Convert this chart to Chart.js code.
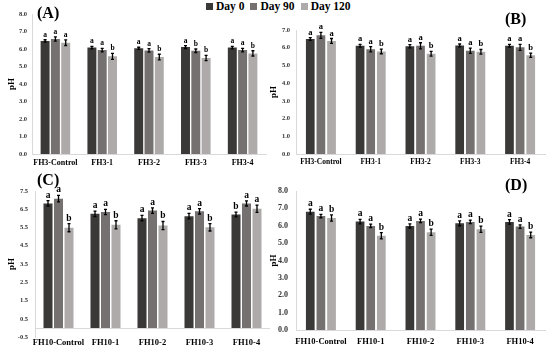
<!DOCTYPE html>
<html>
<head>
<meta charset="utf-8">
<script src="https://cdn.jsdelivr.net/npm/chart.js@4.4.1/dist/chart.umd.min.js"></script>
<style>
    body { margin: 0; background: #fff; width: 550px; height: 348px; overflow: hidden; position: relative; }
    canvas { position: absolute; }
    #legend { position: absolute; top: 0px; left: 206px; font: bold 11.5px "Liberation Serif", serif; color: #000; white-space: nowrap; }
    #legend span.sw { display: inline-block; width: 7px; height: 7px; margin: 0 3px 0 0; }
    #legend span.item { margin-right: 6px; }
    .tag { position: absolute; font: bold 16px "Liberation Serif", serif; color: #000; }
</style>
</head>
<body>
<div id="legend"></div>
<canvas id="chartA"></canvas>
<canvas id="chartB"></canvas>
<canvas id="chartC"></canvas>
<canvas id="chartD"></canvas>
<div class="tag" style="left:37px;top:4px">(A)</div>
<div class="tag" style="left:505px;top:10px">(B)</div>
<div class="tag" style="left:37px;top:171px">(C)</div>
<div class="tag" style="left:505px;top:176px">(D)</div>
<script>
const seriesNames = ['Day 0', 'Day 90', 'Day 120'];
const seriesColors = ['#3b3838', '#767171', '#aeaaaa'];

const catsFH3 = ['FH3-Control', 'FH3-1', 'FH3-2', 'FH3-3', 'FH3-4'];
const catsFH10 = ['FH10-Control', 'FH10-1', 'FH10-2', 'FH10-3', 'FH10-4'];

// (A)
const aDay0 = [6.46, 6.08, 6.04, 6.11, 6.08];
const aDay90 = [6.57, 5.94, 5.92, 5.90, 5.94];
const aDay120 = [6.36, 5.58, 5.54, 5.49, 5.75];
const aErr0 = [0.07, 0.07, 0.06, 0.08, 0.07];
const aErr90 = [0.12, 0.10, 0.10, 0.10, 0.10];
const aErr120 = [0.16, 0.17, 0.16, 0.15, 0.15];
const aLet0 = ['a', 'a', 'a', 'a', 'a'];
const aLet90 = ['a', 'a', 'a', 'b', 'a'];
const aLet120 = ['a', 'b', 'b', 'b', 'b'];

// (B)
const bDay0 = [6.49, 6.11, 6.08, 6.13, 6.11];
const bDay90 = [6.70, 5.91, 6.11, 5.83, 6.02];
const bDay120 = [6.38, 5.79, 5.66, 5.77, 5.58];
const bErr0 = [0.08, 0.08, 0.09, 0.08, 0.08];
const bErr90 = [0.17, 0.15, 0.17, 0.15, 0.17];
const bErr120 = [0.14, 0.13, 0.13, 0.13, 0.12];
const bLet0 = ['a', 'a', 'a', 'a', 'a'];
const bLet90 = ['a', 'a', 'a', 'a', 'a'];
const bLet120 = ['a', 'b', 'b', 'b', 'b'];

// (C)
const cDay0 = [6.82, 6.25, 6.01, 6.12, 6.21];
const cDay90 = [7.08, 6.35, 6.43, 6.39, 6.82];
const cDay120 = [5.49, 5.65, 5.61, 5.51, 6.53];
const cErr0 = [0.15, 0.15, 0.15, 0.15, 0.13];
const cErr90 = [0.18, 0.14, 0.15, 0.15, 0.14];
const cErr120 = [0.22, 0.22, 0.22, 0.2, 0.2];
const cLet0 = ['a', 'a', 'a', 'a', 'b'];
const cLet90 = ['a', 'a', 'a', 'a', 'a'];
const cLet120 = ['b', 'b', 'b', 'b', 'a'];

// (D)
const dDay0 = [6.81, 6.24, 5.99, 6.14, 6.22];
const dDay90 = [6.56, 5.99, 6.28, 6.22, 5.95];
const dDay120 = [6.45, 5.42, 5.63, 5.80, 5.47];
const dErr0 = [0.14, 0.13, 0.12, 0.14, 0.13];
const dErr90 = [0.1, 0.1, 0.1, 0.1, 0.1];
const dErr120 = [0.18, 0.18, 0.18, 0.18, 0.16];
const dLet0 = ['a', 'a', 'a', 'a', 'a'];
const dLet90 = ['a', 'a', 'a', 'a', 'a'];
const dLet120 = ['b', 'b', 'b', 'b', 'b'];

// shared legend
const legendEl = document.getElementById('legend');
seriesNames.forEach((name, i) => {
    const item = document.createElement('span');
    item.className = 'item';
    item.innerHTML = `<span class="sw" style="background:${seriesColors[i]}"></span>${name}`;
    legendEl.appendChild(item);
});

const SERIF = '"Liberation Serif", serif';

// error bars, letters and (for C) the zero line
const marksPlugin = {
    id: 'marks',
    beforeDatasetsDraw(chart, args, opts) {
        if (!opts.zeroLine) return;
        const ctx = chart.ctx;
        const y0 = Math.round(chart.scales.y.getPixelForValue(0)) + 0.5;
        ctx.save();
        ctx.strokeStyle = '#d9d9d9';
        ctx.lineWidth = 1;
        ctx.beginPath();
        ctx.moveTo(chart.chartArea.left, y0);
        ctx.lineTo(chart.chartArea.right, y0);
        ctx.stroke();
        ctx.restore();
    },
    afterDatasetsDraw(chart, args, opts) {
        const ctx = chart.ctx;
        const yScale = chart.scales.y;
        ctx.save();
        chart.data.datasets.forEach((ds, i) => {
            const meta = chart.getDatasetMeta(i);
            meta.data.forEach((bar, j) => {
                const v = ds.data[j];
                const e = ds.errors[j];
                const top = yScale.getPixelForValue(v + e);
                const bot = yScale.getPixelForValue(v - e);
                ctx.strokeStyle = '#000';
                ctx.lineWidth = 1.3;
                ctx.beginPath();
                ctx.moveTo(bar.x, top);
                ctx.lineTo(bar.x, bot);
                ctx.moveTo(bar.x - 1.5, top);
                ctx.lineTo(bar.x + 1.5, top);
                ctx.moveTo(bar.x - 1.5, bot);
                ctx.lineTo(bar.x + 1.5, bot);
                ctx.stroke();
                ctx.fillStyle = '#000';
                ctx.font = `bold ${opts.letterSize}px ${SERIF}`;
                ctx.textAlign = 'center';
                ctx.textBaseline = 'alphabetic';
                ctx.fillText(ds.letters[j], bar.x, top - 3);
            });
        });
        ctx.restore();
    }
};

function makePanel(id, box, cats, values, errors, letters, ax) {
    const canvas = document.getElementById(id);
    canvas.style.left = box.x + 'px';
    canvas.style.top = box.y + 'px';
    canvas.width = box.w;
    canvas.height = box.h;
    canvas.style.width = box.w + 'px';
    canvas.style.height = box.h + 'px';

    return new Chart(canvas.getContext('2d'), {
        type: 'bar',
        data: {
            labels: cats,
            datasets: seriesNames.map((name, i) => ({
                label: name,
                data: values[i],
                errors: errors[i],
                letters: letters[i],
                backgroundColor: seriesColors[i],
                borderWidth: 0,
                categoryPercentage: ax.catPct,
                barPercentage: ax.barPct,
            })),
        },
        options: {
            responsive: false,
            animation: false,
            layout: { autoPadding: false, padding: { left: 0, right: ax.padRight, top: ax.padTop, bottom: 0 } },
            plugins: {
                legend: { display: false },
                tooltip: { enabled: false },
                marks: { letterSize: ax.letterSize, zeroLine: ax.zeroLine },
            },
            scales: {
                x: {
                    grid: { display: false, drawTicks: false },
                    border: { display: !ax.zeroLine, color: '#d9d9d9', width: 1 },
                    ticks: { color: '#000', padding: ax.xPad, maxRotation: 0, autoSkip: false, font: { family: SERIF, size: ax.catSize, weight: 'bold' } },
                    afterFit(s) { s.height = ax.xHeight; },
                },
                y: {
                    min: ax.min,
                    max: ax.max,
                    grid: { display: false, drawTicks: false },
                    border: { color: '#d9d9d9', width: 1 },
                    ticks: {
                        stepSize: 1,
                        color: '#333',
                        padding: ax.yPad,
                        font: { family: SERIF, size: ax.tickSize, weight: 'bold' },
                        callback: (v) => v.toFixed(1),
                    },
                    title: { display: true, text: 'pH', color: '#000', padding: { top: 6, bottom: 0 }, font: { family: SERIF, size: 9, weight: 'bold' } },
                    afterFit(s) { s.width = ax.yWidth; },
                },
            },
        },
        plugins: [marksPlugin],
    });
}

makePanel('chartA', { x: 0, y: 0, w: 275, h: 172 }, catsFH3,
    [aDay0, aDay90, aDay120], [aErr0, aErr90, aErr120], [aLet0, aLet90, aLet120],
    { min: 0, max: 8, padTop: 14, padRight: 9, yWidth: 32, xHeight: 18, yPad: 5, xPad: 4,
      tickSize: 6.5, catSize: 8, letterSize: 7.5, catPct: 0.66, barPct: 0.87, zeroLine: false });

makePanel('chartB', { x: 262, y: 0, w: 288, h: 172 }, catsFH3,
    [bDay0, bDay90, bDay120], [bErr0, bErr90, bErr120], [bLet0, bLet90, bLet120],
    { min: 0, max: 7, padTop: 30, padRight: 5, yWidth: 34, xHeight: 18, yPad: 6, xPad: 4,
      tickSize: 6.5, catSize: 7.5, letterSize: 8.5, catPct: 0.64, barPct: 0.82, zeroLine: false });

makePanel('chartC', { x: 0, y: 172, w: 275, h: 176 }, catsFH10,
    [cDay0, cDay90, cDay120], [cErr0, cErr90, cErr120], [cLet0, cLet90, cLet120],
    { min: -0.5, max: 7.5, padTop: 19, padRight: 5, yWidth: 35, xHeight: 10, yPad: 7, xPad: 1,
      tickSize: 6.5, catSize: 8.5, letterSize: 9.5, catPct: 0.67, barPct: 0.86, zeroLine: true });

makePanel('chartD', { x: 262, y: 172, w: 288, h: 176 }, catsFH10,
    [dDay0, dDay90, dDay120], [dErr0, dErr90, dErr120], [dLet0, dLet90, dLet120],
    { min: 0, max: 8, padTop: 19, padRight: 5, yWidth: 34, xHeight: 18, yPad: 8, xPad: 7,
      tickSize: 8, catSize: 8.5, letterSize: 9.5, catPct: 0.64, barPct: 0.82, zeroLine: false });
</script>
</body>
</html>
